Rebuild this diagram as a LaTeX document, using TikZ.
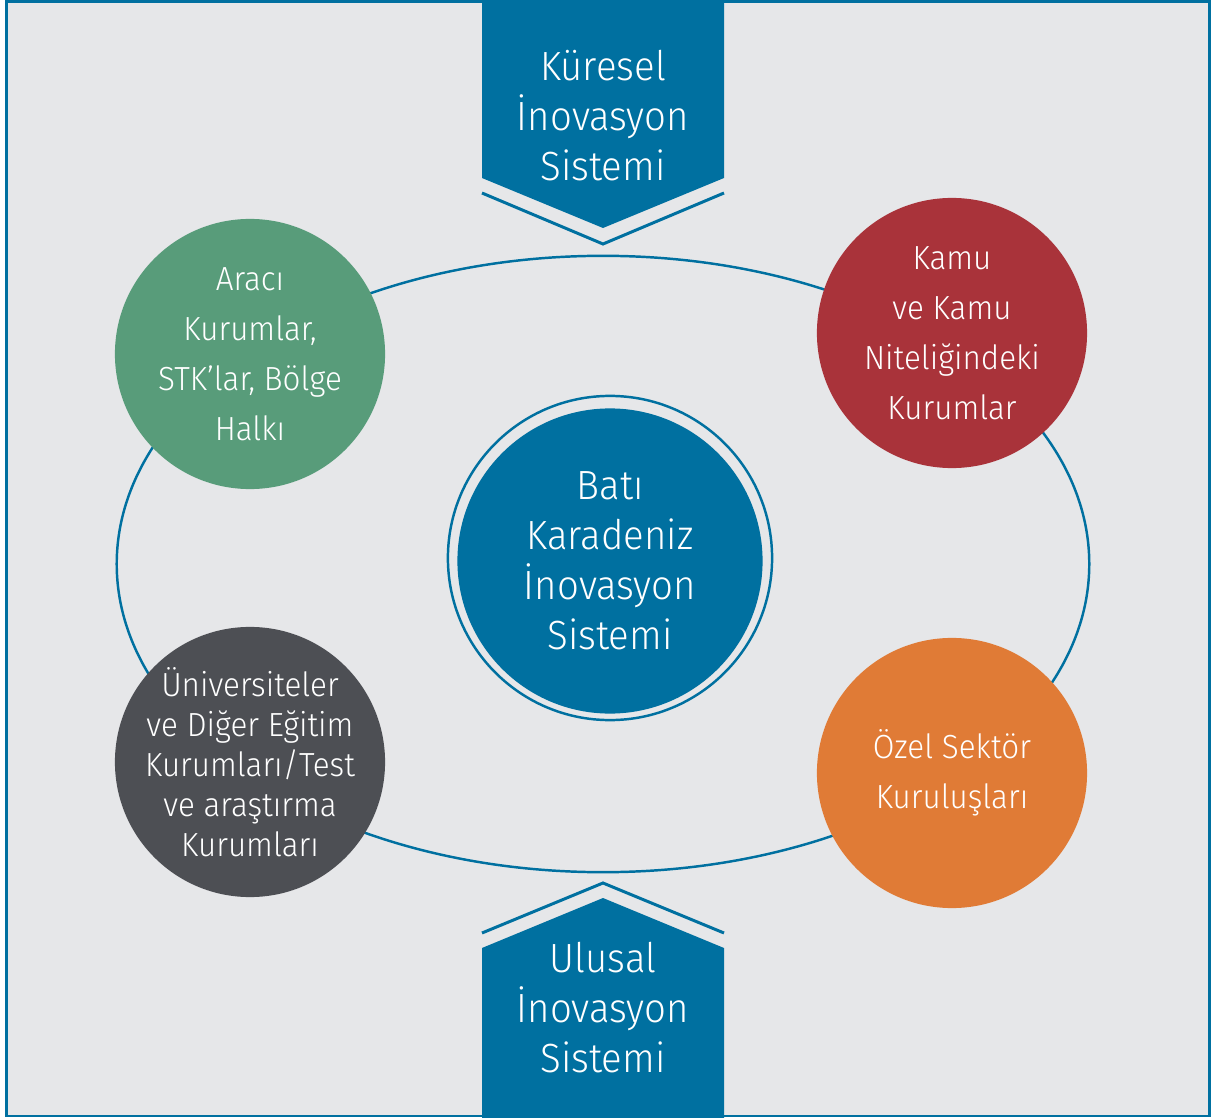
\documentclass[tikz,border=0pt]{standalone}
\usepackage{fontspec}
\setmainfont{Fira Sans Light}[FakeStretch=0.94]
\usepackage{tikz}
\usetikzlibrary{shapes,positioning,backgrounds}

\definecolor{wkblue}{RGB}{0,112,160}
\definecolor{wkbg}{RGB}{230,231,233}
\definecolor{wkgreen}{RGB}{88,156,122}
\definecolor{wkred}{RGB}{169,51,58}
\definecolor{wkorange}{RGB}{224,123,54}
\definecolor{wkdark}{RGB}{77,79,84}

\begin{document}
\begin{tikzpicture}[x=0.01cm,y=-0.01cm,
    actor/.style={circle, minimum size=2.7cm, inner sep=-0.6cm,
      align=center, text=white,
      font=\fontsize{9.5}{14.2}\selectfont},
    bannertext/.style={align=center, text=white,
      font=\fontsize{11.6}{14.2}\selectfont},
    link/.style={draw=wkblue, line width=0.7pt}
  ]
  \useasboundingbox (0,0) rectangle (1211,1118);
  \fill[wkbg] (6,2) rectangle (1209,1116);

  % the loop joining the four actors
  \node[link, ellipse, minimum width=9.72cm, minimum height=6.16cm,
    inner sep=0pt] (loop) at (603,564) {};

  % global system, from above
  \fill[wkblue] (482,0) -- (724,0) -- (724,178) -- (603,228)
    -- (482,178) -- cycle;
  \draw[wkblue, line width=0.85pt] (482,193) -- (603,244) -- (724,193);
  \node[bannertext] (global) at (603,116)
    {Küresel\\İnovasyon\\Sistemi};

  % national system, from below
  \fill[wkblue] (482,1118) -- (724,1118) -- (724,948) -- (603,898)
    -- (482,948) -- cycle;
  \draw[wkblue, line width=0.85pt] (482,933) -- (603,883) -- (724,933);
  \node[bannertext] (national) at (603,1008)
    {Ulusal\\İnovasyon\\Sistemi};

  % regional system in the middle
  \node[link, circle, minimum size=3.24cm, inner sep=0pt] (ring) at (610,558) {};
  \node[bannertext, circle, fill=wkblue, minimum size=3.05cm,
    inner sep=-0.6cm] (hub) at (610,561)
    {Batı\\Karadeniz\\İnovasyon\\Sistemi};

  % actors
  \node[actor, fill=wkgreen] (ngo) at (250,354)
    {Aracı\\Kurumlar,\\STK’lar, Bölge\\Halkı};
  \node[actor, fill=wkred] (public) at (952,333)
    {Kamu\\ve Kamu\\Niteliğindeki\\Kurumlar};
  \node[actor, fill=wkdark,
    font=\fontsize{9.5}{11.4}\selectfont] (univ) at (250,762)
    {Üniversiteler\\ve Diğer Eğitim\\Kurumları/Test\\ve araştırma\\Kurumları};
  \node[actor, fill=wkorange] (private) at (952,773)
    {Özel Sektör\\Kuruluşları};

  \draw[wkblue, line width=0.85pt] (6.5,1.5) rectangle (1209.5,1116);
\end{tikzpicture}
\end{document}
